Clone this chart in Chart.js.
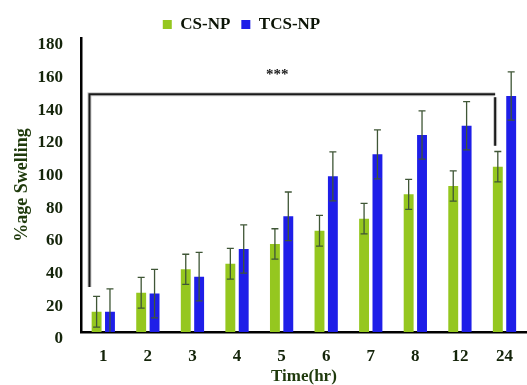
<!DOCTYPE html>
<html>
<head>
<meta charset="utf-8">
<script src="https://cdn.jsdelivr.net/npm/chart.js@4.4.1/dist/chart.umd.min.js"></script>
<style>
  html, body { margin: 0; padding: 0; background: #fff; }
  #wrap { width: 527px; height: 385px; }
</style>
</head>
<body>
<div id="wrap"><canvas id="swelling"></canvas></div>
<script>
// time points (hr)
var timeLabels = ['1', '2', '3', '4', '5', '6', '7', '8', '12', '24'];

// % swelling
var csValues  = [12.4, 24.0, 38.4, 41.8, 53.9, 62.0, 69.4, 84.3, 89.4, 101.2];
var tcsValues = [12.4, 23.5, 33.9, 50.8, 70.8, 95.3, 108.8, 120.6, 126.3, 144.5];

// error bar half widths
var csErrors  = [9.4, 9.4, 9.2, 9.4, 9.3, 9.4, 9.3, 9.2, 9.3, 9.3];
var tcsErrors = [14.0, 14.9, 14.8, 14.8, 14.9, 15.0, 15.0, 14.8, 14.8, 14.8];

var yTicks = [0, 20, 40, 60, 80, 100, 120, 140, 160, 180];

var serif = 'Liberation Serif, Times New Roman, serif';

// error bars drawn through the scales
var errorBars = {
    id: 'errorBars',
    afterDatasetsDraw: function (chart) {
        var ctx = chart.ctx;
        var y = chart.scales.y;
        ctx.save();
        ctx.strokeStyle = '#3f5636';
        ctx.lineWidth = 1.3;
        chart.data.datasets.forEach(function (ds, di) {
            var meta = chart.getDatasetMeta(di);
            meta.data.forEach(function (bar, i) {
                var v = ds.data[i], e = ds.errors[i];
                var top = y.getPixelForValue(v + e);
                var bot = y.getPixelForValue(Math.max(v - e, 0));
                var cap = 3.5;
                ctx.beginPath();
                ctx.moveTo(bar.x, top); ctx.lineTo(bar.x, bot);
                ctx.moveTo(bar.x - cap, top); ctx.lineTo(bar.x + cap, top);
                if (v - e > 0) { ctx.moveTo(bar.x - cap, bot); ctx.lineTo(bar.x + cap, bot); }
                ctx.stroke();
            });
        });
        ctx.restore();
    }
};

// significance bracket between 1 h and 24 h
var bracket = {
    id: 'bracket',
    afterDatasetsDraw: function (chart) {
        var o = chart.options.plugins.bracket;
        var x = chart.scales.x, y = chart.scales.y;
        var step = x.getPixelForValue(1) - x.getPixelForValue(0);
        var x1 = x.getPixelForValue(0) + o.from * step;
        var x2 = x.getPixelForValue(0) + o.to * step;
        var yt = y.getPixelForValue(o.level);
        var yl = y.getPixelForValue(o.leftEnd);
        var yr = y.getPixelForValue(o.rightEnd);
        var ctx = chart.ctx;
        ctx.save();
        [['#c8c8c8', 4], ['#1a1a1a', 2]].forEach(function (s) {
            ctx.strokeStyle = s[0];
            ctx.lineWidth = s[1];
            ctx.beginPath();
            ctx.moveTo(x1, yl); ctx.lineTo(x1, yt); ctx.lineTo(x2, yt);
            ctx.moveTo(x2, yt + 3); ctx.lineTo(x2, yr);
            ctx.stroke();
        });
        ctx.fillStyle = '#1a1a1a';
        ctx.font = 'bold 15px ' + serif;
        ctx.textAlign = 'center';
        ctx.textBaseline = 'middle';
        ctx.fillText(o.text, x.getPixelForValue(0) + o.textAt * step, y.getPixelForValue(o.textLevel));
        ctx.restore();
    }
};

// the legend in the figure sits left of centre
var legendShift = {
    id: 'legendShift',
    afterLayout: function (chart) {
        var l = chart.legend;
        l.left -= 22; l.right -= 22;
        l.top += 5; l.bottom += 5;
    }
};

new Chart(document.getElementById('swelling'), {
    type: 'bar',
    data: {
        labels: timeLabels,
        datasets: [{
            label: 'CS-NP',
            data: csValues,
            errors: csErrors,
            backgroundColor: '#95c71f',
            categoryPercentage: 0.6,
            barPercentage: 0.74
        }, {
            label: 'TCS-NP',
            data: tcsValues,
            errors: tcsErrors,
            backgroundColor: '#1e1ee8',
            categoryPercentage: 0.6,
            barPercentage: 0.74
        }]
    },
    options: {
        responsive: true,
        maintainAspectRatio: false,
        animation: false,
        layout: { padding: 0 },
        plugins: {
            legend: {
                position: 'top',
                labels: {
                    boxWidth: 9,
                    boxHeight: 9,
                    padding: 11,
                    color: '#0c1406',
                    font: { family: serif, size: 17, weight: 'bold' }
                }
            },
            tooltip: { enabled: false },
            bracket: { from: -0.31, to: 8.79, level: 145.6, leftEnd: 27.6, rightEnd: 114, text: '***', textAt: 3.9, textLevel: 157 }
        },
        scales: {
            x: {
                grid: { display: false, drawTicks: false },
                border: { color: '#000', width: 2.5 },
                ticks: { color: '#14240a', padding: 14, font: { family: serif, size: 17, weight: 'bold' } },
                title: {
                    display: true, text: 'Time(hr)', color: '#1f3a0c',
                    padding: { top: 0, bottom: 0 },
                    font: { family: serif, size: 17, weight: 'bold', lineHeight: 1 }
                },
                afterFit: function (s) { s.height = 53; }
            },
            y: {
                min: 0, max: 180,
                grid: { display: false, drawTicks: false },
                border: { color: '#000', width: 2.5 },
                afterBuildTicks: function (s) { s.ticks = yTicks.map(function (v) { return { value: v }; }); },
                ticks: { color: '#14240a', padding: 18, labelOffset: 7, font: { family: serif, size: 17, weight: 'bold' } },
                title: {
                    display: true, text: '%age Swelling', color: '#1f3a0c',
                    padding: { top: 13, bottom: 0 },
                    font: { family: serif, size: 18, weight: 'bold', lineHeight: 1 }
                },
                afterFit: function (s) { s.width = 81; }
            }
        }
    },
    plugins: [errorBars, bracket, legendShift]
});
</script>
</body>
</html>
